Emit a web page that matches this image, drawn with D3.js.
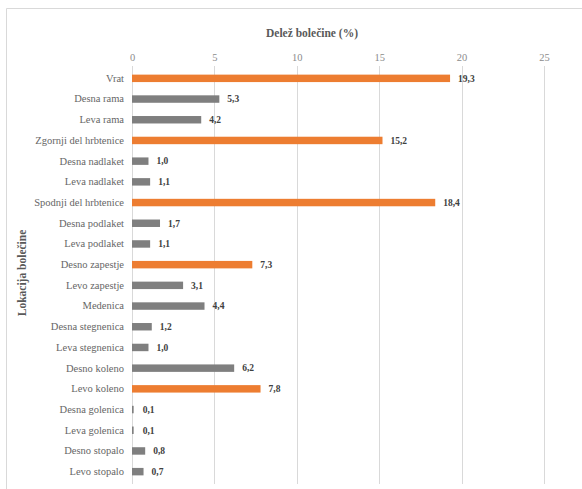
<!DOCTYPE html>
<html><head><meta charset="utf-8">
<script src="https://cdn.jsdelivr.net/npm/d3@7"></script>
<style>body{margin:0;background:#fff}svg{display:block}svg text{font-family:'Liberation Serif','DejaVu Serif',serif}</style>
</head><body><svg id="c" width="582" height="489"></svg>
<script>
const categories = ["Vrat","Desna rama","Leva rama","Zgornji del hrbtenice","Desna nadlaket","Leva nadlaket","Spodnji del hrbtenice","Desna podlaket","Leva podlaket","Desno zapestje","Levo zapestje","Medenica","Desna stegnenica","Leva stegnenica","Desno koleno","Levo koleno","Desna golenica","Leva golenica","Desno stopalo","Levo stopalo"];
const values = [19.3,5.3,4.2,15.2,1.0,1.1,18.4,1.7,1.1,7.3,3.1,4.4,1.2,1.0,6.2,7.8,0.1,0.1,0.8,0.7];
const highlighted = ["Vrat","Zgornji del hrbtenice","Spodnji del hrbtenice","Desno zapestje","Levo koleno"];
const xTicks = [0,5,10,15,20,25];
const xTitle = "Delež bolečine (%)";
const yTitle = "Lokacija bolečine";

const svg = d3.select("#c");
svg.append("path").attr("d","M6.5,489 V8.5 H582").attr("fill","none").attr("stroke","#d9d9d9").attr("stroke-width",1);

const x = d3.scaleLinear().domain([0,25]).range([132,544]);
const y = d3.scaleBand().domain(categories).range([68,482]).paddingInner(0.64).paddingOuter(0.32);

svg.append("g").selectAll("line").data(xTicks).join("line")
  .attr("x1",d=>Math.round(x(d))+0.5).attr("x2",d=>Math.round(x(d))+0.5)
  .attr("y1",66).attr("y2",484).attr("stroke","#d9d9d9").attr("stroke-width",1);

const ax = svg.append("g").attr("transform","translate(0,57)")
  .call(d3.axisTop(x).tickValues(xTicks).tickSize(0).tickPadding(0).tickFormat(d3.format("d")));
ax.select(".domain").remove();
ax.selectAll("text").style("font-size","10.5px").attr("fill","#8c8c8c").attr("dy","0.35em").attr("y",0);

const ay = svg.append("g").attr("transform","translate(124,0)")
  .call(d3.axisLeft(y).tickSize(0).tickPadding(0));
ay.select(".domain").remove();
ay.selectAll("text").style("font-size","10.5px").attr("fill","#666666");

svg.append("g").selectAll("rect").data(categories).join("rect")
  .attr("x",x(0)).attr("y",d=>y(d)).attr("height",y.bandwidth())
  .attr("width",(d,i)=>Math.max(1,x(values[i])-x(0)))
  .attr("fill",d=>highlighted.includes(d)?"#ed7d31":"#7f7f7f");

svg.append("g").selectAll("text").data(categories).join("text")
  .attr("x",(d,i)=>x(values[i])+ (values[i]<0.5?9:8)).attr("y",d=>y(d)+y.bandwidth()/2)
  .attr("dy","0.35em").style("font-size","9.5px").attr("font-weight","bold")
  .attr("fill","#404040").text((d,i)=>d3.format(".1f")(values[i]).replace(".",","));

svg.append("text").attr("x",312).attr("y",37).attr("text-anchor","middle")
  .style("font-size","11.5px").attr("font-weight","bold").attr("fill","#595959").text(xTitle);
svg.append("text").attr("transform","translate(26,273) rotate(-90)").attr("text-anchor","middle")
  .style("font-size","11.5px").attr("font-weight","bold").attr("fill","#595959").text(yTitle);
</script></body></html>
